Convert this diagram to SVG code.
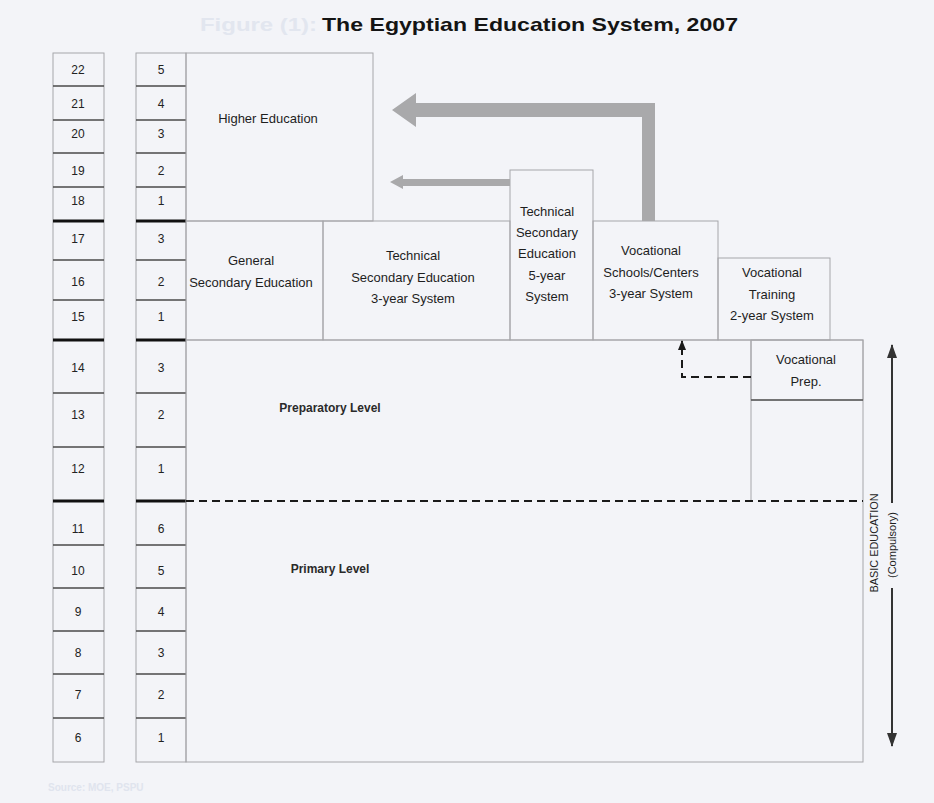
<svg xmlns="http://www.w3.org/2000/svg" width="934" height="803" viewBox="0 0 934 803">
<defs>
<style>
.bg{fill:#f3f4f8}
.box{fill:none;stroke:#a6a6aa;stroke-width:1}
.sep{stroke:#4a4a4a;stroke-width:1.6}
.thick{stroke:#111;stroke-width:3}
.num{font-family:"Liberation Sans",Arial,sans-serif;font-size:12px;fill:#222;text-anchor:middle}
.lbl{font-family:"Liberation Sans",Arial,sans-serif;font-size:13px;fill:#1e1e1e;text-anchor:middle}
.lvl{font-family:"Liberation Sans",Arial,sans-serif;font-size:12px;font-weight:bold;fill:#2a2a2a;text-anchor:middle}
.dash{fill:none;stroke:#1a1a1a;stroke-width:2;stroke-dasharray:8 5}
.garrow{fill:#a9a9ab}
</style>
<marker id="ah" markerWidth="10" markerHeight="8" refX="9" refY="4" orient="auto" markerUnits="userSpaceOnUse" viewBox="0 0 10 8">
<path d="M0,0 L10,4 L0,8 Z" fill="#1a1a1a"/>
</marker>
<marker id="ah2" markerWidth="14" markerHeight="10" refX="13" refY="5" orient="auto" markerUnits="userSpaceOnUse" viewBox="0 0 14 10">
<path d="M0,0 L14,5 L0,10 Z" fill="#333"/>
</marker>
</defs>
<rect class="bg" x="0" y="0" width="934" height="803"/>

<g id="title">
<text x="200" y="31" font-family="Liberation Sans,Arial,sans-serif" font-size="19" font-weight="bold" fill="#e2e6ef" textLength="117" lengthAdjust="spacingAndGlyphs">Figure (1):</text>
<text x="322" y="31" font-family="Liberation Sans,Arial,sans-serif" font-size="19" font-weight="bold" fill="#141414" textLength="416" lengthAdjust="spacingAndGlyphs">The Egyptian Education System, 2007</text>
</g>

<g id="age-column">
<rect class="box" x="53" y="53" width="51" height="709"/>
<g class="sep">
<line x1="53" y1="86" x2="104" y2="86"/><line x1="53" y1="120" x2="104" y2="120"/><line x1="53" y1="153" x2="104" y2="153"/><line x1="53" y1="187" x2="104" y2="187"/>
<line x1="53" y1="260" x2="104" y2="260"/><line x1="53" y1="300" x2="104" y2="300"/>
<line x1="53" y1="393" x2="104" y2="393"/><line x1="53" y1="447" x2="104" y2="447"/>
<line x1="53" y1="545" x2="104" y2="545"/><line x1="53" y1="588" x2="104" y2="588"/><line x1="53" y1="631" x2="104" y2="631"/><line x1="53" y1="674" x2="104" y2="674"/><line x1="53" y1="718" x2="104" y2="718"/>
</g>
<g class="thick">
<line x1="53" y1="221" x2="104" y2="221"/><line x1="53" y1="340" x2="104" y2="340"/><line x1="53" y1="501" x2="104" y2="501"/>
</g>
<g class="num">
<text x="78" y="74">22</text><text x="78" y="108">21</text><text x="78" y="138">20</text><text x="78" y="175">19</text><text x="78" y="205">18</text>
<text x="78" y="243">17</text><text x="78" y="286">16</text><text x="78" y="321">15</text>
<text x="78" y="372">14</text><text x="78" y="419">13</text><text x="78" y="473">12</text>
<text x="78" y="533">11</text><text x="78" y="575">10</text><text x="78" y="616">9</text><text x="78" y="657">8</text><text x="78" y="699">7</text><text x="78" y="742">6</text>
</g>
</g>

<g id="grade-column">
<rect class="box" x="136" y="53" width="50" height="709"/>
<g class="sep">
<line x1="136" y1="86" x2="186" y2="86"/><line x1="136" y1="120" x2="186" y2="120"/><line x1="136" y1="153" x2="186" y2="153"/><line x1="136" y1="187" x2="186" y2="187"/>
<line x1="136" y1="260" x2="186" y2="260"/><line x1="136" y1="300" x2="186" y2="300"/>
<line x1="136" y1="393" x2="186" y2="393"/><line x1="136" y1="447" x2="186" y2="447"/>
<line x1="136" y1="545" x2="186" y2="545"/><line x1="136" y1="588" x2="186" y2="588"/><line x1="136" y1="631" x2="186" y2="631"/><line x1="136" y1="674" x2="186" y2="674"/><line x1="136" y1="718" x2="186" y2="718"/>
</g>
<g class="thick">
<line x1="136" y1="221" x2="186" y2="221"/><line x1="136" y1="340" x2="186" y2="340"/><line x1="136" y1="501" x2="186" y2="501"/>
</g>
<g class="num">
<text x="161" y="74">5</text><text x="161" y="108">4</text><text x="161" y="138">3</text><text x="161" y="175">2</text><text x="161" y="205">1</text>
<text x="161" y="243">3</text><text x="161" y="286">2</text><text x="161" y="321">1</text>
<text x="161" y="372">3</text><text x="161" y="419">2</text><text x="161" y="473">1</text>
<text x="161" y="533">6</text><text x="161" y="575">5</text><text x="161" y="616">4</text><text x="161" y="657">3</text><text x="161" y="699">2</text><text x="161" y="742">1</text>
</g>
</g>

<g id="higher-education">
<rect class="box" x="186" y="53" width="187" height="168"/>
<text class="lbl" x="268" y="123">Higher Education</text>
</g>

<g id="general-secondary">
<rect class="box" x="186" y="221" width="137" height="119"/>
<text class="lbl" x="251" y="265">General</text>
<text class="lbl" x="251" y="287">Secondary Education</text>
</g>

<g id="technical-secondary-3">
<rect class="box" x="323" y="221" width="187" height="119"/>
<text class="lbl" x="413" y="260">Technical</text>
<text class="lbl" x="413" y="282">Secondary Education</text>
<text class="lbl" x="413" y="303">3-year System</text>
</g>

<g id="technical-secondary-5">
<rect class="box" x="510" y="170" width="83" height="170"/>
<text class="lbl" x="547" y="216">Technical</text>
<text class="lbl" x="547" y="237">Secondary</text>
<text class="lbl" x="547" y="258">Education</text>
<text class="lbl" x="547" y="280">5-year</text>
<text class="lbl" x="547" y="301">System</text>
</g>

<g id="vocational-schools">
<rect class="box" x="593" y="221" width="125" height="119"/>
<text class="lbl" x="651" y="255">Vocational</text>
<text class="lbl" x="651" y="277">Schools/Centers</text>
<text class="lbl" x="651" y="298">3-year System</text>
</g>

<g id="vocational-training">
<rect class="box" x="718" y="258" width="112" height="82"/>
<text class="lbl" x="772" y="277">Vocational</text>
<text class="lbl" x="772" y="299">Training</text>
<text class="lbl" x="772" y="320">2-year System</text>
</g>

<g id="basic-education">
<rect class="box" x="186" y="340" width="677" height="422"/>
<line class="box" x1="751" y1="340" x2="751" y2="501"/>
<text class="lvl" x="330" y="412">Preparatory Level</text>
<text class="lvl" x="330" y="573">Primary Level</text>
</g>

<g id="vocational-prep">
<rect class="box" x="751" y="340" width="112" height="60"/>
<line x1="751" y1="400" x2="863" y2="400" stroke="#555" stroke-width="1.5"/>
<text class="lbl" x="806" y="364">Vocational</text>
<text class="lbl" x="806" y="386">Prep.</text>
</g>

<g id="basic-label">
<text transform="translate(878,543) rotate(-90)" font-family="Liberation Sans,Arial,sans-serif" font-size="11" fill="#1e1e1e" text-anchor="middle" textLength="99" lengthAdjust="spacingAndGlyphs">BASIC EDUCATION</text>
<text transform="translate(896,545) rotate(-90)" font-family="Liberation Sans,Arial,sans-serif" font-size="11" fill="#1e1e1e" text-anchor="middle">(Compulsory)</text>
</g>

<g id="connectors">
<polygon class="garrow" points="392,110 416,93 416,103 655,103 655,221 642,221 642,117 416,117 416,127"/>
<polygon class="garrow" points="390,182 403,175 403,179 510,179 510,186 403,186 403,189"/>
<line class="dash" x1="186" y1="501" x2="863" y2="501"/>
<polyline class="dash" points="751,377 682,377 682,341" stroke-dasharray="7 5" marker-end="url(#ah)"/>
<line x1="892" y1="503" x2="892" y2="345" stroke="#333" stroke-width="2" marker-end="url(#ah2)"/>
<line x1="892" y1="588" x2="892" y2="746" stroke="#333" stroke-width="2" marker-end="url(#ah2)"/>
</g>

<g id="source">
<text x="48" y="791" font-family="Liberation Sans,Arial,sans-serif" font-size="10" font-weight="bold" fill="#e0e4ee">Source: MOE, PSPU</text>
</g>
</svg>
